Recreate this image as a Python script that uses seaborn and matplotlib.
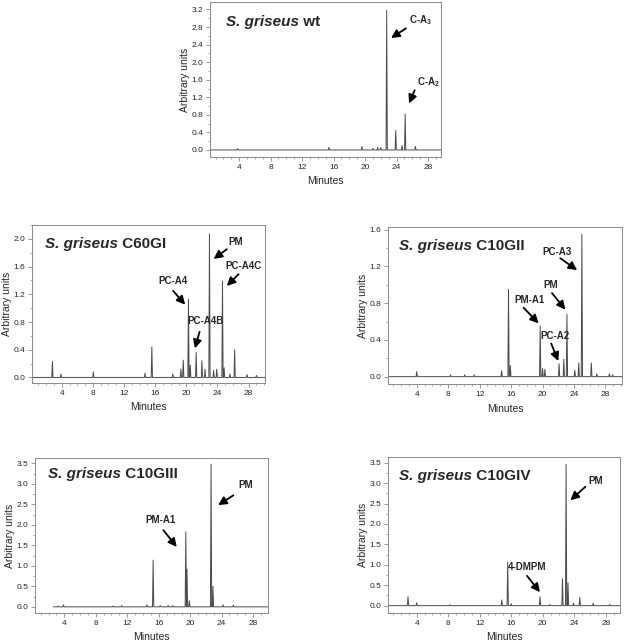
import pandas as pd
import matplotlib
matplotlib.use("Agg")
import matplotlib.pyplot as plt
from matplotlib.ticker import MultipleLocator, AutoMinorLocator, FormatStrFormatter
import seaborn as sns

# --- peak tables (retention time in minutes, height in arbitrary units) ---
WT_T = [3.8, 15.4, 19.6, 21.0, 21.6, 22.0, 22.75, 23.9, 24.7, 25.1, 26.4]
WT_H = [0.03, 0.06, 0.08, 0.04, 0.06, 0.05, 3.18, 0.44, 0.10, 0.82, 0.08]

C60_T = [2.8, 3.9, 8.06, 14.7, 15.57, 18.26, 19.3, 19.6, 20.27, 20.5, 21.26, 22.0, 22.4,
         22.97, 23.5, 23.9, 24.64, 24.85, 25.6, 26.2, 27.8, 29.0]
C60_H = [0.23, 0.05, 0.08, 0.06, 0.44, 0.05, 0.12, 0.25, 1.13, 0.18, 0.36, 0.24, 0.12,
         2.07, 0.10, 0.12, 1.39, 0.14, 0.05, 0.40, 0.04, 0.03]

C10II_T = [4.0, 8.3, 10.1, 11.3, 14.8, 15.67, 15.9, 19.7, 20.0, 20.3, 22.1, 22.7, 23.1,
           24.1, 24.6, 25.0, 26.2, 26.9, 28.5, 28.9]
C10II_H = [0.055, 0.02, 0.02, 0.02, 0.065, 0.95, 0.12, 0.55, 0.09, 0.08, 0.14, 0.19, 0.68,
           0.07, 0.15, 1.55, 0.15, 0.03, 0.03, 0.02]

C10III_T = [3.2, 3.9, 10.2, 11.3, 14.5, 15.3, 16.2, 17.2, 17.8, 19.45, 19.6, 19.9, 22.66,
            22.9, 24.2, 25.5]
C10III_H = [0.02, 0.05, 0.02, 0.03, 0.05, 1.14, 0.03, 0.03, 0.03, 1.83, 0.92, 0.15, 3.48,
            0.50, 0.05, 0.04]

C10IV_T = [2.9, 4.0, 8.2, 14.8, 15.55, 16.0, 19.65, 20.9, 22.5, 22.96, 23.2, 23.9, 24.7,
           26.4, 28.5]
C10IV_H = [0.22, 0.07, 0.02, 0.14, 1.07, 0.05, 0.22, 0.03, 0.66, 3.46, 0.56, 0.06, 0.20,
           0.06, 0.03]

# --- panel layout (pixels of the 624x643 figure); notes = (label, text centre, arrow tail, arrow head) ---
W, H = 624, 643
PANELS = [
    dict(name="wt", t=WT_T, h=WT_H, box=(210, 2, 441, 157), xlim=(0.3, 29.65), ylim=(-0.16, 3.37),
         ystep=0.4, start=0.3, title=(0.068, 0.873),
         notes=[("C-A$_\\mathbf{3}$", (27.1, 2.95), (25.2, 2.77), (23.3, 2.55)),
                ("C-A$_\\mathbf{2}$", (28.1, 1.55), (26.3, 1.36), (25.6, 1.06))]),
    dict(name="C60GI", t=C60_T, h=C60_H, box=(32, 225, 265, 383), xlim=(0.18, 30.1), ylim=(-0.08, 2.2),
         ystep=0.4, start=0.18, title=(0.056, 0.878),
         notes=[("PM", (26.4, 1.95), (25.2, 1.85), (23.5, 1.71)),
                ("PC-A4C", (27.4, 1.61), (26.7, 1.49), (25.2, 1.32)),
                ("PC-A4", (18.3, 1.39), (18.3, 1.25), (19.85, 1.05)),
                ("PC-A4B", (22.5, 0.81), (21.7, 0.66), (21.1, 0.42))]),
    dict(name="C10GII", t=C10II_T, h=C10II_H, box=(388, 227, 622, 384), xlim=(0.35, 30.1), ylim=(-0.08, 1.63),
         ystep=0.4, start=0.35, title=(0.048, 0.879),
         notes=[("PC-A3", (21.8, 1.36), (22.25, 1.29), (24.4, 1.16)),
                ("PM", (21.0, 1.0), (21.2, 0.91), (22.9, 0.73)),
                ("PM-A1", (18.35, 0.83), (17.6, 0.75), (19.5, 0.58)),
                ("PC-A2", (21.6, 0.44), (21.1, 0.36), (22.0, 0.17))]),
    dict(name="C10GIII", t=C10III_T, h=C10III_H, box=(35, 458, 268, 613), xlim=(0.28, 29.9), ylim=(-0.15, 3.63),
         ystep=0.5, start=2.6, title=(0.057, 0.895),
         notes=[("PM", (27.0, 2.97), (25.5, 2.72), (23.55, 2.48)),
                ("PM-A1", (16.2, 2.11), (16.6, 1.87), (18.3, 1.46))]),
    dict(name="C10GIV", t=C10IV_T, h=C10IV_H, box=(388, 457, 620, 613), xlim=(0.36, 29.8), ylim=(-0.18, 3.64),
         ystep=0.5, start=0.36, title=(0.049, 0.878),
         notes=[("PM", (26.7, 3.05), (25.4, 2.91), (23.5, 2.58)),
                ("4-DMPM", (18.0, 0.94), (18.0, 0.73), (19.65, 0.33))]),
]

sns.set_style("ticks")
plt.rcParams["font.family"] = ["Liberation Sans", "DejaVu Sans"]
plt.rcParams["mathtext.fontset"] = "custom"
plt.rcParams["mathtext.bf"] = "Liberation Sans:bold"
plt.rcParams["mathtext.rm"] = "Liberation Sans"

FRAME = "#8a8a8a"


def trace(times, heights, start, end, hw=0.08):
    # each peak drawn as a narrow spike on a flat baseline
    xs, ys = [start], [0.0]
    for t, h in sorted(zip(times, heights)):
        xs += [t - hw, t, t + hw]
        ys += [0.0, h, 0.0]
    xs.append(end)
    ys.append(0.0)
    return pd.DataFrame({"Minutes": xs, "Arbitrary units": ys})


fig = plt.figure(figsize=(W / 100, H / 100), dpi=100)

for p in PANELS:
    l, t, r, b = p["box"]
    ax = fig.add_axes([l / W, (H - b) / H, (r - l) / W, (b - t) / H])
    df = trace(p["t"], p["h"], p["start"], p["xlim"][1])
    sns.lineplot(data=df, x="Minutes", y="Arbitrary units", ax=ax, sort=False,
                 estimator=None, color="#4a4a4a", linewidth=0.7)
    ax.set_xlim(*p["xlim"])
    ax.set_ylim(*p["ylim"])
    ax.set_xticks([4, 8, 12, 16, 20, 24, 28])
    ax.xaxis.set_minor_locator(MultipleLocator(1))
    ax.yaxis.set_major_locator(MultipleLocator(p["ystep"]))
    ax.yaxis.set_minor_locator(AutoMinorLocator(2))
    ax.yaxis.set_major_formatter(FormatStrFormatter("%.1f"))
    for s in ax.spines.values():
        s.set_color(FRAME)
        s.set_linewidth(0.7)
    ax.tick_params(which="major", length=3, width=0.6, color=FRAME, labelsize=6, pad=2)
    ax.tick_params(which="minor", length=1.5, width=0.5, color=FRAME)
    ax.set_xlabel("Minutes", fontsize=7.5, labelpad=4)
    ax.set_ylabel("Arbitrary units", fontsize=7.5, labelpad=0.5)

    # title: italic species name + bold strain
    tx, ty = p["title"]
    t1 = ax.text(tx, ty, "S. griseus", transform=ax.transAxes, fontsize=11,
                 fontweight="bold", fontstyle="italic", ha="left", va="center")
    ax.annotate(" " + p["name"], xy=(1, 0.5), xycoords=t1, fontsize=11,
                fontweight="bold", ha="left", va="center")

    for label, txt, tail, head in p["notes"]:
        ax.text(txt[0], txt[1], label, fontsize=7, fontweight="bold", ha="center", va="center")
        ax.annotate("", xy=head, xytext=tail,
                    arrowprops=dict(arrowstyle="-|>,head_length=0.5,head_width=0.25",
                                    color="black", lw=1.3, shrinkA=0, shrinkB=0))

fig.savefig("out.png", dpi=100)
